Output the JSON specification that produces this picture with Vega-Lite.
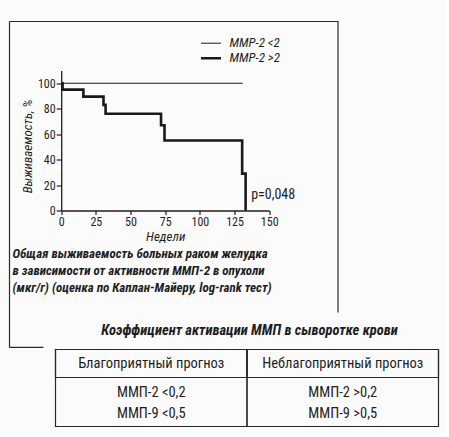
{
  "$schema": "https://vega.github.io/schema/vega-lite/v6.json",
  "background": "#fbfbfb",
  "padding": {"left": 8.5, "top": 20.5, "right": 5, "bottom": 5},
  "spacing": -26,
  "config": {
    "font": "Liberation Sans Narrow, Roboto Condensed, DejaVu Sans Condensed, Arial Narrow, sans-serif",
    "text": {"color": "#1e1e1e"},
    "title": {"color": "#1e1e1e"},
    "axis": {"labelColor": "#1e1e1e", "titleColor": "#1e1e1e", "domainColor": "#1e1e1e", "tickColor": "#1e1e1e", "grid": false}
  },
  "datasets": {
    "km": [
      {"group": "MMP-2 <2", "weeks": 0, "survival": 100},
      {"group": "MMP-2 <2", "weeks": 131, "survival": 100},
      {"group": "MMP-2 >2", "weeks": 0, "survival": 100},
      {"group": "MMP-2 >2", "weeks": 1, "survival": 95},
      {"group": "MMP-2 >2", "weeks": 16, "survival": 89.5},
      {"group": "MMP-2 >2", "weeks": 30.5, "survival": 83},
      {"group": "MMP-2 >2", "weeks": 32, "survival": 76},
      {"group": "MMP-2 >2", "weeks": 72, "survival": 67},
      {"group": "MMP-2 >2", "weeks": 74.5, "survival": 55},
      {"group": "MMP-2 >2", "weeks": 130.5, "survival": 29},
      {"group": "MMP-2 >2", "weeks": 133, "survival": 0}
    ],
    "pvalue": [{"label": "p=0,048", "weeks": 137, "survival": 12}],
    "frame": [{"part": "box"}],
    "table": [
      {"col": "fav", "row": "h", "text": "Благоприятный прогноз"},
      {"col": "unfav", "row": "h", "text": "Неблагоприятный прогноз"},
      {"col": "fav", "row": "body", "text": "ММП-2 <0,2\nММП-9 <0,5"},
      {"col": "unfav", "row": "body", "text": "ММП-2 >0,2\nММП-9 >0,5"}
    ]
  },
  "vconcat": [
    {
      "width": 329,
      "height": 326,
      "view": {"stroke": null},
      "title": {
        "text": ["Общая выживаемость больных раком желудка", "в зависимости от активности ММП-2 в опухоли", "(мкг/г) (оценка по Каплан-Майеру, log-rank тест)"],
        "orient": "bottom", "anchor": "start", "frame": "group", "offset": -100, "dx": 3,
        "fontSize": 13, "fontWeight": "bold", "fontStyle": "italic", "lineHeight": 17
      },
      "layer": [
        {
          "data": {"name": "km"},
          "mark": {"type": "line", "interpolate": "step-after", "color": "#1a1a1a", "clip": false},
          "encoding": {
            "x": {
              "field": "weeks", "type": "quantitative",
              "scale": {"domain": [0, 150], "range": [51.7, 259.7], "nice": false},
              "axis": {
                "values": [0, 25, 50, 75, 100, 125, 150], "offset": -137, "tickSize": 4, "labelPadding": 2,
                "labelFontSize": 12, "labelFlush": false, "domainWidth": 1.3, "tickWidth": 1.2,
                "title": "Недели", "titleFontStyle": "italic", "titleFontWeight": "normal", "titleFontSize": 13, "titlePadding": 3
              }
            },
            "y": {
              "field": "survival", "type": "quantitative",
              "scale": {"domain": [0, 110], "range": [189, 49], "nice": false},
              "axis": {
                "values": [0, 20, 40, 60, 80, 100], "offset": -51.7, "tickSize": 5, "labelPadding": 1,
                "labelFontSize": 12, "labelFlush": false, "domainWidth": 1.3, "tickWidth": 1.2,
                "title": "Выживаемость, %", "titleX": -33.7, "titleY": 124.5, "titleAngle": -90,
                "titleBaseline": "middle", "titleAlign": "center",
                "titleFontStyle": "italic", "titleFontWeight": "normal", "titleFontSize": 13
              }
            },
            "strokeWidth": {
              "field": "group", "type": "ordinal",
              "scale": {"domain": ["MMP-2 <2", "MMP-2 >2"], "range": [1, 2.6]},
              "legend": {
                "orient": "none", "legendX": 190, "legendY": 14.4, "title": null, "padding": 0,
                "symbolType": "stroke", "symbolSize": 400, "symbolStrokeColor": "#1a1a1a",
                "labelFontSize": 13, "labelFontStyle": "italic", "labelOffset": 7, "rowPadding": 0,
                "clipHeight": 14.6, "labelColor": "#1e1e1e"
              }
            }
          }
        },
        {
          "data": {"name": "frame"},
          "mark": {"type": "rule", "color": "#2a2a2a", "strokeWidth": 1.2, "clip": false},
          "encoding": {"y": {"datum": 148.5}}
        },
        {
          "data": {"name": "frame"},
          "mark": {"type": "rule", "color": "#2a2a2a", "strokeWidth": 1.2, "clip": false},
          "encoding": {"x": {"datum": -37.28}}
        },
        {
          "data": {"name": "frame"},
          "mark": {"type": "rule", "color": "#2a2a2a", "strokeWidth": 1.2, "clip": false},
          "encoding": {"x": {"datum": 199.6}, "y": {"datum": 148.5}, "y2": {"datum": -80.1}}
        },
        {
          "data": {"name": "frame"},
          "mark": {"type": "rule", "color": "#2a2a2a", "strokeWidth": 1.2, "clip": false},
          "encoding": {"y": {"datum": -107.6}, "x": {"datum": -37.28}, "x2": {"datum": -12.8}}
        },
        {
          "data": {"name": "pvalue"},
          "mark": {"type": "text", "align": "left", "baseline": "middle", "fontSize": 14},
          "encoding": {
            "x": {"field": "weeks", "type": "quantitative"},
            "y": {"field": "survival", "type": "quantitative"},
            "text": {"field": "label"}
          }
        }
      ]
    },
    {
      "width": 429,
      "height": 77,
      "view": {"stroke": null},
      "title": {
        "text": "Коэффициент активации ММП в сыворотке крови",
        "anchor": "middle", "frame": "group", "offset": 10, "dx": 25.5,
        "fontSize": 14.5, "fontWeight": "bold", "fontStyle": "italic"
      },
      "data": {"name": "table"},
      "encoding": {
        "x": {"field": "col", "type": "nominal",
              "scale": {"domain": ["fav", "unfav"], "range": [46, 429], "paddingInner": 0, "paddingOuter": 0}, "axis": null}
      },
      "layer": [
        {
          "transform": [{"filter": "datum.row === 'h'"}],
          "mark": {"type": "rect", "filled": false, "color": "#2a2a2a", "strokeWidth": 1.2},
          "encoding": {}
        },
        {
          "transform": [{"filter": "datum.row === 'h'"}],
          "mark": {"type": "rect", "filled": false, "color": "#2a2a2a", "strokeWidth": 1.2},
          "encoding": {
            "y": {"field": "row", "type": "nominal",
                  "scale": {"domain": ["h", "body"], "range": [0, 56], "paddingInner": 0, "paddingOuter": 0}, "axis": null}
          }
        },
        {
          "transform": [{"filter": "datum.row === 'h'"}],
          "mark": {"type": "text", "baseline": "middle", "align": "center", "fontSize": 14.5},
          "encoding": {
            "y": {"field": "row", "type": "nominal"},
            "text": {"field": "text"}
          }
        },
        {
          "transform": [{"filter": "datum.row === 'body'"}],
          "mark": {"type": "text", "baseline": "middle", "align": "center", "fontSize": 14.5, "lineBreak": "\n", "lineHeight": 21},
          "encoding": {
            "y": {"field": "row", "type": "nominal", "bandPosition": 0.536},
            "text": {"field": "text"}
          }
        }
      ]
    }
  ]
}
